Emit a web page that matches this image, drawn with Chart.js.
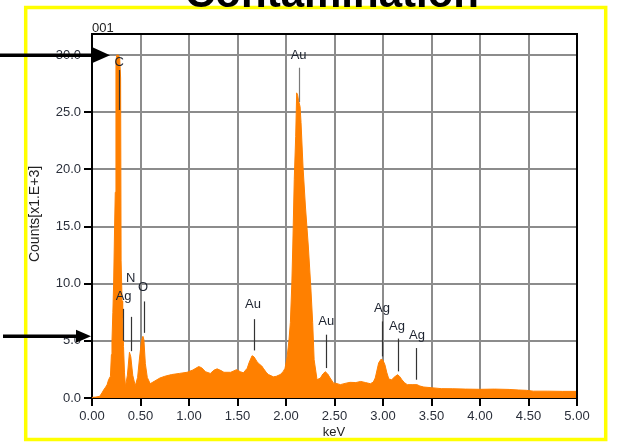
<!DOCTYPE html>
<html><head><meta charset="utf-8">
<script src="https://cdn.jsdelivr.net/npm/chart.js@4/dist/chart.umd.min.js"></script>
<style>html,body{margin:0;padding:0;background:#fff;}#wrap{width:618px;height:442px;position:relative;}</style>
</head><body><div id="wrap"><canvas id="c" width="618" height="442"></canvas></div>
<script>
// Spectrum: energy (keV) and counts (x1000)
const energyKeV = [0.00,0.04,0.08,0.103,0.12,0.14,0.155,0.171,0.19,0.20,0.206,0.215,0.223,0.233,0.24,0.247,0.255,0.27,0.285,0.295,0.30,0.31,0.316,0.325,0.335,0.345,0.365,0.386,0.40,0.42,0.446,0.47,0.49,0.51,0.525,0.535,0.55,0.57,0.60,0.62,0.66,0.70,0.75,0.82,0.90,0.98,1.04,1.10,1.13,1.17,1.22,1.26,1.29,1.33,1.36,1.43,1.49,1.53,1.56,1.60,1.62,1.65,1.67,1.70,1.72,1.75,1.77,1.80,1.82,1.87,1.90,1.94,1.97,1.99,2.01,2.03,2.045,2.06,2.07,2.085,2.10,2.11,2.12,2.13,2.145,2.155,2.175,2.20,2.23,2.255,2.275,2.29,2.32,2.355,2.38,2.405,2.43,2.455,2.49,2.51,2.56,2.62,2.66,2.72,2.77,2.82,2.87,2.90,2.92,2.955,2.98,3.00,3.02,3.04,3.06,3.09,3.12,3.15,3.17,3.195,3.22,3.25,3.30,3.35,3.38,3.42,3.50,3.60,3.72,3.85,4.00,4.15,4.30,4.40,4.48,4.55,4.70,4.85,5.00];
const countsK = [0.05,0.08,0.15,0.45,0.7,0.95,1.15,1.6,1.9,3.8,5.0,7.5,10.0,15.0,18.0,29.5,30.0,30.0,29.8,28.0,12.0,8.5,7.0,4.5,2.2,1.0,2.0,4.0,3.6,2.0,1.07,1.8,3.5,5.0,5.4,5.1,3.0,1.8,1.25,1.35,1.55,1.75,1.9,2.05,2.15,2.25,2.45,2.75,2.65,2.3,2.15,2.45,2.55,2.4,2.25,2.25,2.48,2.3,2.2,2.6,3.1,3.7,3.6,3.2,3.0,2.8,2.55,2.2,2.05,1.85,1.9,2.05,2.3,2.6,3.5,5.0,6.6,10.0,13.3,19.1,22.9,26.7,26.5,26.0,25.5,24.1,20.3,16.8,13.3,9.8,6.6,3.35,1.6,1.75,2.1,2.3,2.1,1.75,1.3,1.3,1.17,1.3,1.37,1.35,1.45,1.35,1.25,1.4,1.75,3.06,3.4,3.3,2.9,2.2,1.66,1.6,1.85,2.04,1.9,1.6,1.35,1.17,1.17,1.17,1.05,0.96,0.9,0.82,0.81,0.78,0.76,0.78,0.75,0.70,0.67,0.6,0.6,0.58,0.58];

const xTickValues = [0,0.5,1,1.5,2,2.5,3,3.5,4,4.5,5];
const yTickValues = [0,5,10,15,20,25,30];
const xMin = 0, xMax = 5, yMin = 0, yMax = 31.85;

// Peak identification labels (data coordinates)
const peakNames = ['C','Ag','N','O','Au','Au','Au','Ag','Ag','Ag'];
const peakTextKeV = [0.28,0.326,0.40,0.526,2.13,1.66,2.415,2.99,3.144,3.35];
const peakTextCounts = [29.4,8.9,10.5,9.7,30.0,8.2,6.7,7.8,6.3,5.5];
const peakLineKeV = [0.28,0.316,0.40,0.532,2.13,1.666,2.41,2.993,3.155,3.34];
const peakLineTop = [28.7,7.8,7.1,8.45,28.9,6.9,5.54,6.7,5.2,4.37];
const peakLineBottom = [25.2,5.0,4.1,5.7,25.9,4.16,2.62,3.64,2.33,1.6];
const arrowCounts = [30.0, 5.4];

const chartTitle = 'Contamination';
const spectrumId = '001';
const yTitle = 'Counts[x1.E+3]';
const xTitle = 'keV';

const FONT = "'Liberation Sans', Arial, sans-serif";

const deco = {
  id: 'deco',
  afterDraw(chart) {
    const ctx = chart.ctx, xs = chart.scales.x, ys = chart.scales.y, a = chart.chartArea;
    ctx.save();
    // top & right frame
    ctx.strokeStyle = '#000'; ctx.lineWidth = 2;
    ctx.beginPath();
    ctx.moveTo(a.left, a.top); ctx.lineTo(a.right, a.top); ctx.lineTo(a.right, a.bottom);
    ctx.stroke();
    // peak marker lines and labels
    ctx.lineWidth = 1.2;
    ctx.font = '13px ' + FONT;
    ctx.textAlign = 'center'; ctx.textBaseline = 'middle';
    for (let i = 0; i < peakNames.length; i++) {
      const lx = Math.round(xs.getPixelForValue(peakLineKeV[i])) + 0.5;
      ctx.strokeStyle = (i === 4) ? '#7a7a7a' : '#333';
      ctx.beginPath();
      ctx.moveTo(lx, ys.getPixelForValue(peakLineTop[i]));
      ctx.lineTo(lx, ys.getPixelForValue(peakLineBottom[i]));
      ctx.stroke();
      ctx.fillStyle = '#1e2430';
      ctx.fillText(peakNames[i], xs.getPixelForValue(peakTextKeV[i]), ys.getPixelForValue(peakTextCounts[i]));
    }
    // yellow frame
    ctx.strokeStyle = '#ffff00'; ctx.lineWidth = 3.5;
    ctx.strokeRect(25.7, 7.5, 580, 432);
    // title (cut off at the top)
    ctx.fillStyle = '#000';
    ctx.font = 'bold 42px ' + FONT;
    ctx.textAlign = 'center'; ctx.textBaseline = 'alphabetic';
    ctx.fillText(chartTitle, 332, 7);
    // spectrum id
    ctx.font = '13px ' + FONT;
    ctx.fillStyle = '#222';
    ctx.textAlign = 'left';
    ctx.fillText(spectrumId, a.left, 32);
    // axis titles
    ctx.textAlign = 'center'; ctx.textBaseline = 'middle';
    ctx.fillText(xTitle, 334, 432);
    ctx.save();
    ctx.translate(35, 214);
    ctx.rotate(-Math.PI / 2);
    ctx.font = '14px ' + FONT;
    ctx.fillText(yTitle, 0, 0);
    ctx.restore();
    // arrows
    ctx.fillStyle = '#000'; ctx.strokeStyle = '#000';
    const arrowDefs = [[0, 110, 17, 7.7], [3, 91, 15, 6.5]];
    arrowCounts.forEach((v, i) => {
      const y = ys.getPixelForValue(v);
      const [x0, tip, hl, hw] = arrowDefs[i];
      ctx.lineWidth = 3.5;
      ctx.beginPath(); ctx.moveTo(x0, y); ctx.lineTo(tip - hl + 1, y); ctx.stroke();
      ctx.beginPath();
      ctx.moveTo(tip, y); ctx.lineTo(tip - hl, y - hw); ctx.lineTo(tip - hl, y + hw); ctx.closePath();
      ctx.fill();
    });
    ctx.restore();
  }
};

new Chart(document.getElementById('c'), {
  type: 'line',
  data: {
    datasets: [{
      data: energyKeV.map((x, i) => ({ x: x, y: countsK[i] })),
      fill: 'origin',
      backgroundColor: '#ff8000',
      borderColor: '#ff8000',
      borderWidth: 1,
      pointRadius: 0,
      tension: 0
    }]
  },
  options: {
    responsive: false,
    devicePixelRatio: 1,
    animation: false,
    events: [],
    layout: { padding: { left: 0, right: 41, top: 34, bottom: 0 } },
    plugins: { legend: { display: false }, tooltip: { enabled: false }, title: { display: false } },
    scales: {
      x: {
        type: 'linear', min: xMin, max: xMax, position: 'bottom',
        afterBuildTicks: s => { s.ticks = xTickValues.map(v => ({ value: v })); },
        afterFit: s => { s.height = 44; },
        ticks: { callback: v => Number(v).toFixed(2), font: { family: FONT, size: 13 }, color: '#2a2f3a', padding: 3, maxRotation: 0, autoSkip: false },
        grid: { color: '#8c8c8c', lineWidth: 2, tickColor: '#000', tickLength: 8, tickWidth: 2 },
        border: { color: '#000', width: 2 }
      },
      y: {
        type: 'linear', min: yMin, max: yMax,
        afterBuildTicks: s => { s.ticks = yTickValues.map(v => ({ value: v })); },
        afterFit: s => { s.width = 92; },
        ticks: { callback: v => Number(v).toFixed(1), font: { family: FONT, size: 13 }, color: '#2a2f3a', padding: 3, autoSkip: false },
        grid: { color: '#8c8c8c', lineWidth: 2, tickColor: '#000', tickLength: 8, tickWidth: 2 },
        border: { color: '#000', width: 2 }
      }
    }
  },
  plugins: [deco]
});
</script></body></html>
